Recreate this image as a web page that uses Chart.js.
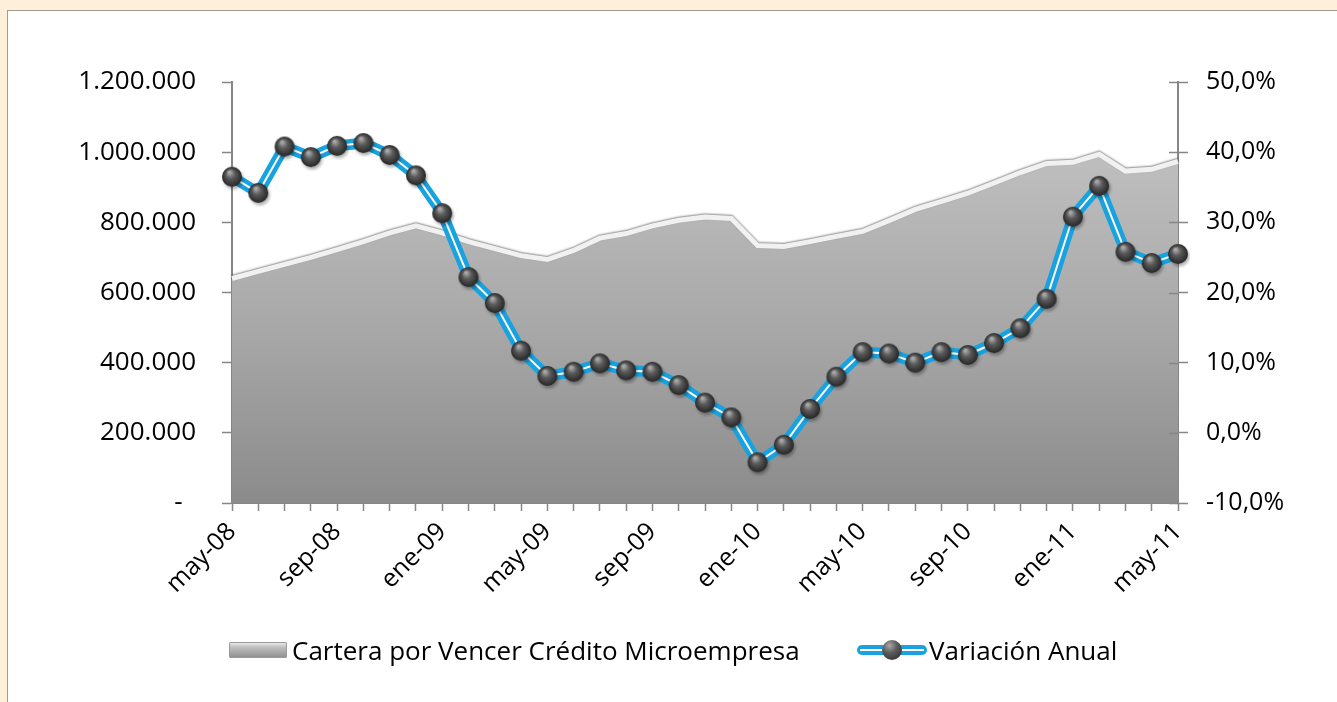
<!DOCTYPE html>
<html>
<head>
<meta charset="utf-8">
<script src="https://cdn.jsdelivr.net/npm/chart.js@4.4.1/dist/chart.umd.min.js"></script>
<style>
    html, body { margin: 0; padding: 0; }
    body { width: 1337px; height: 702px; background: #fdefd9; position: relative; overflow: hidden; font-family: "Open Sans", sans-serif; }
    #panel { position: absolute; left: 7px; top: 10px; width: 1340px; height: 700px; background: #fff; border-left: 1px solid #a39b8e; border-top: 1px solid #a39b8e; }
    #chartBox { position: absolute; left: 0; top: 0; width: 1337px; height: 702px; }
    .legend-item { position: absolute; top: 633px; height: 34px; display: flex; align-items: center; font-size: 26px; color: #000; white-space: nowrap; }
    .area-swatch { width: 58px; height: 16px; border-radius: 2px; background: linear-gradient(#f4f4f4 0%, #c2c2c2 30%, #8d8d8d 100%); box-shadow: inset 0 0 0 1px #9a9a9a; margin-right: 5px; }
    .line-swatch { position: relative; width: 70px; height: 22px; margin-right: 2px; }
    .line-swatch .bar { position: absolute; left: 0; right: 0; top: 6px; height: 10px; border-radius: 5px; background: #18a3e0; }
    .line-swatch .bar::after { content: ""; position: absolute; left: 3px; right: 3px; top: 4px; height: 2px; background: #fff; }
    .line-swatch .ball { position: absolute; left: 25px; top: 1px; width: 20px; height: 20px; border-radius: 50%; background: radial-gradient(circle at 38% 28%, #a8a8a8 0%, #5a5a5a 40%, #262626 100%); }
</style>
</head>
<body>
<div id="panel"></div>
<div id="chartBox"><canvas id="microChart"></canvas></div>
<div class="legend-item" style="left:229px"><div class="area-swatch"></div><span id="legArea"></span></div>
<div class="legend-item" style="left:857px"><div class="line-swatch"><div class="bar"></div><div class="ball"></div></div><span id="legLine"></span></div>
<script>
// monthly categories, may-08 .. may-11
const months = [
    'may-08', 'jun-08', 'jul-08', 'ago-08', 'sep-08', 'oct-08', 'nov-08', 'dic-08',
    'ene-09', 'feb-09', 'mar-09', 'abr-09', 'may-09', 'jun-09', 'jul-09', 'ago-09',
    'sep-09', 'oct-09', 'nov-09', 'dic-09', 'ene-10', 'feb-10', 'mar-10', 'abr-10',
    'may-10', 'jun-10', 'jul-10', 'ago-10', 'sep-10', 'oct-10', 'nov-10', 'dic-10',
    'ene-11', 'feb-11', 'mar-11', 'abr-11', 'may-11'
];

// Cartera por Vencer Crédito Microempresa (left axis)
const cartera = [
    640000, 660000, 680000, 700000, 722000, 745000, 770000, 790000,
    770000, 745000, 725000, 705000, 694000, 720000, 755000, 768000,
    790000, 806000, 815000, 811000, 734000, 731000, 745000, 760000,
    774000, 805000, 837000, 860000, 883000, 912000, 942000, 968000,
    971000, 994000, 946000, 951000, 974000
];

// Variación Anual in % (right axis)
const variacion = [
    36.5, 34.2, 40.8, 39.3, 40.9, 41.3, 39.6, 36.7,
    31.3, 22.2, 18.5, 11.7, 8.1, 8.7, 9.9, 8.9,
    8.7, 6.8, 4.3, 2.2, -4.2, -1.7, 3.4, 8.0,
    11.5, 11.3, 10.0, 11.5, 11.1, 12.8, 14.9, 19.1,
    30.8, 35.2, 25.8, 24.2, 25.5
];

const seriesNames = ['Cartera por Vencer Crédito Microempresa', 'Variación Anual'];
document.getElementById('legArea').textContent = seriesNames[0];
document.getElementById('legLine').textContent = seriesNames[1];

const axisGray = '#868686';
const labelFont = { family: '"Open Sans", sans-serif', size: 25 };

// glossy dark bead used as the marker
function makeBead(r) {
    const size = r * 2 + 8;
    const c = document.createElement('canvas');
    c.width = size; c.height = size;
    const g = c.getContext('2d');
    const cx = size / 2, cy = size / 2;
    g.filter = 'blur(1.5px)';
    g.beginPath(); g.arc(cx + 1.5, cy + 2.5, r, 0, Math.PI * 2);
    g.fillStyle = 'rgba(0,0,0,0.3)'; g.fill();
    g.filter = 'none';
    const grad = g.createRadialGradient(cx - r * 0.25, cy - r * 0.45, r * 0.1, cx, cy, r);
    grad.addColorStop(0, '#a8a8a8');
    grad.addColorStop(0.4, '#5a5a5a');
    grad.addColorStop(1, '#262626');
    g.beginPath(); g.arc(cx, cy, r, 0, Math.PI * 2);
    g.fillStyle = grad; g.fill();
    return c;
}
const bead = makeBead(10);

function thousands(v) {
    return String(v).replace(/\B(?=(\d{3})+(?!\d))/g, '.');
}

// soft shadow on the top edge of the area, and the right axis ticks that cross the line
const chartTweaks = {
    id: 'chartTweaks',
    beforeDatasetDraw(chart, args) {
        if (args.index === 0) {
            const c = chart.ctx;
            c.save();
            c.shadowColor = 'rgba(0,0,0,0.45)';
            c.shadowBlur = 2;
            c.shadowOffsetY = -1;
        }
    },
    afterDatasetDraw(chart, args) {
        if (args.index === 0) chart.ctx.restore();
    },
    afterDraw(chart) {
        const s = chart.scales.y1;
        const c = chart.ctx;
        c.save();
        c.strokeStyle = axisGray;
        c.lineWidth = 1.5;
        s.ticks.forEach((t, i) => {
            const y = Math.round(s.getPixelForTick(i)) + 0.5;
            c.beginPath(); c.moveTo(s.left - 9, y); c.lineTo(s.left, y); c.stroke();
        });
        c.restore();
    }
};

const ctx = document.getElementById('microChart').getContext('2d');
new Chart(ctx, {
    type: 'line',
    data: {
        labels: months,
        datasets: [
            {
                label: seriesNames[0],
                data: cartera,
                yAxisID: 'y',
                fill: 'origin',
                backgroundColor: (c) => {
                    const a = c.chart.chartArea;
                    if (!a) return '#aaaaaa';
                    const g = c.chart.ctx.createLinearGradient(0, a.top, 0, a.bottom);
                    g.addColorStop(0.2, '#bdbdbd');
                    g.addColorStop(0.6, '#a7a7a7');
                    g.addColorStop(1, '#8b8b8b');
                    return g;
                },
                borderColor: '#f1f1f1',
                borderWidth: 5,
                pointRadius: 0,
                tension: 0,
                order: 3
            },
            {
                label: seriesNames[1],
                data: variacion,
                yAxisID: 'y1',
                borderColor: '#18a3e0',
                borderWidth: 11,
                borderJoinStyle: 'round',
                pointRadius: 0,
                tension: 0,
                order: 2
            },
            {
                label: seriesNames[1] + ' (centro)',
                data: variacion,
                yAxisID: 'y1',
                borderColor: '#ffffff',
                borderWidth: 2,
                pointStyle: bead,
                pointRadius: 10,
                tension: 0,
                order: 1
            }
        ]
    },
    options: {
        responsive: true,
        maintainAspectRatio: false,
        animation: false,
        layout: { padding: { top: 82, left: 0, right: 0, bottom: 0 } },
        plugins: {
            legend: { display: false },
            tooltip: { enabled: false }
        },
        scales: {
            x: {
                offset: false,
                afterFit: (s) => { s.height = 199; },
                border: { display: true, color: axisGray, width: 2 },
                grid: { display: true, drawOnChartArea: false, drawTicks: true, tickLength: 8, tickColor: axisGray, tickWidth: 1.5 },
                ticks: {
                    autoSkip: false,
                    maxRotation: 45,
                    minRotation: 45,
                    padding: 6,
                    color: '#000',
                    font: labelFont,
                    callback: (v, i) => (i % 4 === 0 ? months[i] : '')
                }
            },
            y: {
                position: 'left',
                min: 0,
                max: 1200000,
                afterFit: (s) => { s.width = 232; },
                border: { display: true, color: axisGray, width: 2 },
                grid: { display: true, drawOnChartArea: false, drawTicks: true, tickLength: 10, tickColor: axisGray, tickWidth: 1.5 },
                ticks: {
                    stepSize: 200000,
                    padding: 26,
                    color: '#000',
                    font: { family: '"Open Sans", sans-serif', size: 26 },
                    callback: (v) => (v === 0 ? '-  ' : thousands(v))
                }
            },
            y1: {
                position: 'right',
                min: -10,
                max: 50,
                afterFit: (s) => { s.width = 159; },
                border: { display: true, color: axisGray, width: 2 },
                grid: { display: true, drawOnChartArea: false, drawTicks: true, tickLength: 10, tickColor: axisGray, tickWidth: 1.5 },
                ticks: {
                    stepSize: 10,
                    padding: 18,
                    color: '#000',
                    font: labelFont,
                    callback: (v) => v.toFixed(1).replace('.', ',') + '%'
                }
            }
        }
    },
    plugins: [chartTweaks]
});
</script>
</body>
</html>
